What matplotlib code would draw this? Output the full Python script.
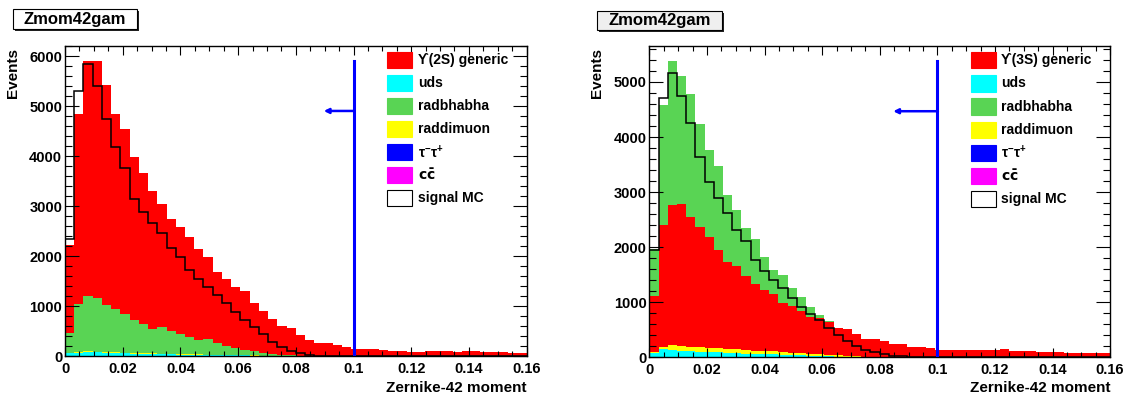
import numpy as np
import matplotlib
matplotlib.use('Agg')
import matplotlib.pyplot as plt
from matplotlib.patches import Rectangle
from matplotlib.ticker import MultipleLocator, FuncFormatter

plt.rcParams['font.family'] = ['Liberation Sans', 'DejaVu Sans']
plt.rcParams['font.weight'] = 'bold'
plt.rcParams['mathtext.default'] = 'regular'

# binning of both histograms
X_MIN, X_MAX, N_BINS = 0.0, 0.16, 50
CUT = 0.1  # cut value marked by the blue line

# ---- left pad: Upsilon(2S) sample (events per bin) ----
gen_2S = [1770, 3810, 4710, 4745, 4400, 3900, 3715, 3265, 3015, 2755,
          2455, 2235, 2155, 2000, 1815, 1640, 1435, 1340, 1235, 1180,
          960, 835, 695, 580, 540, 415, 318, 258, 250, 220,
          180, 150, 145, 135, 120, 110, 105, 90, 90, 95,
          100, 100, 90, 95, 100, 90, 80, 80, 70, 60]
uds_2S = [50, 62, 82, 76, 63, 57, 51, 45, 38, 38, 33, 32, 29, 26, 24, 21, 19, 16, 14, 12,
          10, 8, 6, 5, 4, 3, 2, 2, 1, 1] + [0] * 20
bhabha_2S = [395, 965, 1105, 1070, 940, 865, 770, 660, 590, 490,
             540, 455, 395, 350, 290, 305, 230, 180, 135, 105,
             80, 55, 35, 20, 8, 2, 1] + [0] * 23
mumu_2S = [4, 6, 8, 10, 12, 14, 14, 13, 12, 12, 11, 10, 9, 8, 7, 6, 5, 4, 3, 3,
           2, 2, 1, 1, 1] + [0] * 25
tautau_2S = [3, 5, 5, 4, 4, 3, 2, 2, 2, 2, 1, 1, 1, 1, 1] + [0] * 35
ccbar_2S = [0] * 50
signal_2S = [2340, 5300, 5850, 5405, 4740, 4175, 3755, 3150, 2875, 2665,
             2455, 2165, 1975, 1720, 1540, 1375, 1220, 1065, 885, 720,
             585, 440, 285, 185, 105, 55, 13] + [0] * 23

# ---- right pad: Upsilon(3S) sample ----
gen_3S = [1015, 2205, 2540, 2570, 2345, 2185, 2015, 1795, 1585, 1510,
          1340, 1220, 1115, 1040, 885, 845, 775, 670, 665, 605,
          490, 480, 400, 320, 320, 285, 235, 235, 190, 195,
          175, 125, 140, 130, 130, 125, 130, 140, 145, 115,
          115, 110, 105, 105, 90, 85, 85, 80, 75, 70]
uds_3S = [80, 138, 127, 116, 110, 99, 93, 88, 75, 70, 64, 58, 52, 58, 46, 40, 35, 29, 23, 17,
          14, 10, 8, 6, 4, 3, 2, 1] + [0] * 22
bhabha_3S = [845, 2175, 2625, 2335, 2245, 1875, 1590, 1525, 1225, 1025,
             875, 800, 590, 445, 515, 320, 240, 180, 50, 20,
             10, 5, 2] + [0] * 27
mumu_3S = [15, 50, 85, 85, 80, 80, 70, 70, 65, 70, 65, 60, 60, 50, 55, 45, 35, 35, 30, 25,
           20, 18, 12, 8, 6, 3, 2, 1, 1] + [0] * 21
tautau_3S = [4, 7, 7, 6, 5, 5, 4, 3, 3, 2, 2, 2, 2, 1, 1, 1, 1, 1] + [0] * 32
ccbar_3S = [0] * 50
signal_3S = [1955, 4705, 5165, 4740, 4250, 3645, 3180, 2900, 2625, 2320,
             2105, 1765, 1570, 1400, 1250, 1085, 915, 795, 675, 525,
             405, 300, 210, 130, 100, 60, 30, 18] + [0] * 22

ARROW_LEN = [0.0103, 0.0153]  # length of the cut arrow in each pad

C_RED, C_CYAN, C_GREEN = '#ff0000', '#00ffff', '#59d454'
C_YELLOW, C_BLUE, C_MAG = '#ffff00', '#0000ff', '#ff00ff'

W, H = 1128, 397


def px(x, y):
    return x / W, 1 - y / H


def title_box(fig, x0, y0, x1, y1, fill):
    fx0, fy1 = px(x0, y0)
    fx1, fy0 = px(x1, y1)
    sh = 2.0 / W
    shv = 2.0 / H
    fig.patches.append(Rectangle((fx0 + sh, fy0 - shv), fx1 - fx0, fy1 - fy0,
                                 transform=fig.transFigure, facecolor='#222222',
                                 edgecolor='none', zorder=1))
    fig.patches.append(Rectangle((fx0, fy0), fx1 - fx0, fy1 - fy0,
                                 transform=fig.transFigure, facecolor=fill,
                                 edgecolor='black', lw=0.8, zorder=2))
    fig.text((fx0 + fx1) / 2, (fy0 + fy1) / 2, 'Zmom42gam', ha='center',
             va='center', fontsize=12, fontweight='bold', zorder=3)


def draw_pad(ax, stack, signal, labels, arrow_len):
    edges = np.linspace(X_MIN, X_MAX, N_BINS + 1)
    bottom = np.zeros(N_BINS)
    for vals, col in stack:
        top = bottom + np.asarray(vals, dtype=float)
        ax.stairs(top, edges, baseline=bottom, fill=True, color=col, lw=0)
        bottom = top
    ax.stairs(signal, edges, color='black', lw=1.1, zorder=3)

    hmax = bottom.max()
    ax.set_xlim(X_MIN, X_MAX)
    ax.set_ylim(0, 1.05 * hmax)

    # cut line and arrow
    ax.plot([CUT, CUT], [0, hmax], color=C_BLUE, lw=2.2, zorder=4)
    ya = 0.83 * hmax
    ax.annotate('', xy=(CUT - arrow_len, ya), xytext=(CUT + 0.0002, ya),
                arrowprops=dict(arrowstyle='-|>', color=C_BLUE, lw=1.8,
                                mutation_scale=7, shrinkA=0, shrinkB=0),
                zorder=4)

    ax.xaxis.set_major_locator(MultipleLocator(0.02))
    ax.xaxis.set_minor_locator(MultipleLocator(0.005))
    ax.yaxis.set_major_locator(MultipleLocator(1000))
    ax.yaxis.set_minor_locator(MultipleLocator(200))
    fmt = FuncFormatter(lambda v, p: '%g' % round(v, 4))
    ax.xaxis.set_major_formatter(fmt)
    ax.yaxis.set_major_formatter(fmt)
    ax.tick_params(which='both', direction='in', top=True, right=True,
                   labelsize=10.5, width=0.8)
    ax.tick_params(axis='x', which='major', length=6.5, pad=4)
    ax.tick_params(axis='x', which='minor', length=3.3)
    ax.tick_params(axis='y', which='major', length=10, pad=2)
    ax.tick_params(axis='y', which='minor', length=5)
    for lab in ax.get_xticklabels() + ax.get_yticklabels():
        lab.set_fontweight('bold')
    for s in ax.spines.values():
        s.set_linewidth(1.0)

    # legend, drawn by hand to match the ROOT layout
    colors = [C_RED, C_CYAN, C_GREEN, C_YELLOW, C_BLUE, C_MAG, 'white']
    for i, (lab, col) in enumerate(zip(labels, colors)):
        yc = 0.954 - i * 0.0742
        edge = 'black' if col == 'white' else col
        ax.add_patch(Rectangle((0.698, yc - 0.026), 0.054, 0.052,
                               transform=ax.transAxes, facecolor=col,
                               edgecolor=edge, lw=0.8, zorder=5))
        ax.text(0.764, yc, lab, transform=ax.transAxes, ha='left',
                va='center', fontsize=10, fontweight='bold', zorder=5)


fig = plt.figure(figsize=(W / 100, H / 100), dpi=100)
axL = fig.add_axes([65 / W, 1 - 356 / H, 461.6 / W, 310 / H])
axR = fig.add_axes([649.3 / W, 1 - 357.3 / H, 460.8 / W, 311.3 / H])

tau = r'$\tau^{-}\tau^{+}$'
cc = r'$\mathbf{c\bar{c}}$'
labels_2S = ['\u03d2(2S) generic', 'uds', 'radbhabha', 'raddimuon', tau, cc, 'signal MC']
labels_3S = ['\u03d2(3S) generic', 'uds', 'radbhabha', 'raddimuon', tau, cc, 'signal MC']

stack_2S = [(ccbar_2S, C_MAG), (tautau_2S, C_BLUE), (uds_2S, C_CYAN),
            (mumu_2S, C_YELLOW), (bhabha_2S, C_GREEN), (gen_2S, C_RED)]
stack_3S = [(ccbar_3S, C_MAG), (tautau_3S, C_BLUE), (uds_3S, C_CYAN),
            (mumu_3S, C_YELLOW), (gen_3S, C_RED), (bhabha_3S, C_GREEN)]

draw_pad(axL, stack_2S, signal_2S, labels_2S, ARROW_LEN[0])
draw_pad(axR, stack_3S, signal_3S, labels_3S, ARROW_LEN[1])

title_box(fig, 13.3, 9.3, 136.7, 29.3, 'white')
title_box(fig, 597.3, 10.7, 721.7, 30.0, '#efefef')

for xr, xev in [(526.6, 13.3), (1110.1, 597.5)]:
    fx, fy = px(xev, 48)
    fig.text(fx, fy, 'Events', rotation=90, ha='center', va='top',
             fontsize=11, fontweight='bold')
    fx, fy = px(xr, 387.5)
    fig.text(fx, fy, 'Zernike-42 moment', ha='right', va='center',
             fontsize=11, fontweight='bold')

fig.savefig('out.png', dpi=100)
